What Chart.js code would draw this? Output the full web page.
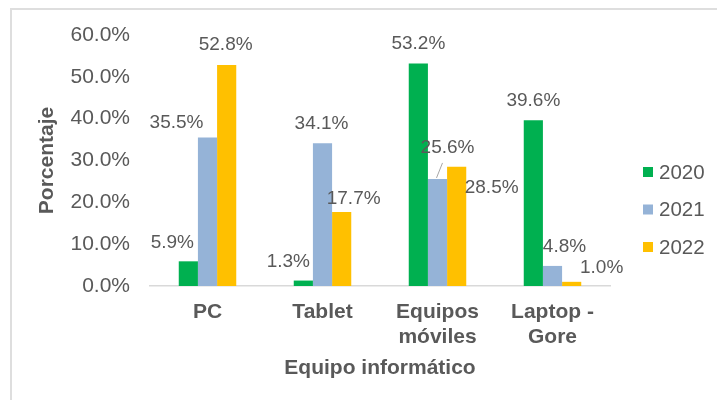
<!DOCTYPE html>
<html>
<head>
<meta charset="utf-8">
<script src="https://cdn.jsdelivr.net/npm/chart.js@4.4.1/dist/chart.umd.min.js"></script>
<style>
  html, body { margin: 0; padding: 0; background: #fff; }
  .frame {
    position: absolute; left: 10px; top: 8px; width: 720px; height: 400px;
    border-left: 2px solid #dedede; border-top: 2px solid #dedede;
  }
  .chart-container { position: absolute; left: 0; top: 0; width: 717px; height: 400px; }
</style>
</head>
<body>
<div class="frame"></div>
<div class="chart-container"><canvas id="equipos-chart"></canvas></div>
<script>
const categories = [['PC'], ['Tablet'], ['Equipos', 'móviles'], ['Laptop -', 'Gore']];
const years = ['2020', '2021', '2022'];
const values2020 = [5.9, 1.3, 53.2, 39.6];
const values2021 = [35.5, 34.1, 25.6, 4.8];
const values2022 = [52.8, 17.7, 28.5, 1.0];
const yTicks = [0, 10, 20, 30, 40, 50, 60];

const colors = ['#00b050', '#95b3d7', '#ffc000'];
const textColor = '#595959';
const fontFamily = '"Liberation Sans", Arial, Helvetica, sans-serif';

// where Excel left each data label, relative to the top of its bar
const labelOffsets = [
  [[-16, -19], [-15, -19], [0, -20], [0, -20]],
  [[-31, -15], [-1, -20], [10, -31], [12, -19]],
  [[-1, -20], [12, -13], [35, 21], [30, -14]]
];

const labelsPlugin = {
  id: 'valueLabels',
  afterDatasetsDraw(chart) {
    const ctx = chart.ctx;
    ctx.save();
    ctx.font = '19px ' + fontFamily;
    ctx.fillStyle = textColor;
    ctx.textAlign = 'center';
    ctx.textBaseline = 'middle';
    chart.data.datasets.forEach((ds, i) => {
      chart.getDatasetMeta(i).data.forEach((bar, j) => {
        const [dx, dy] = labelOffsets[i][j];
        ctx.fillText(ds.data[j].toFixed(1) + '%', bar.x + dx, bar.y + dy);
      });
    });
    // leader line for the 25.6% label
    const b = chart.getDatasetMeta(1).data[2];
    ctx.strokeStyle = '#a6a6a6';
    ctx.lineWidth = 1;
    ctx.beginPath();
    ctx.moveTo(b.x + 5, b.y - 16);
    ctx.lineTo(b.x - 1, b.y - 1);
    ctx.stroke();

    // legend on the right
    ctx.textAlign = 'left';
    ctx.font = '20.5px ' + fontFamily;
    chart.data.datasets.forEach((ds, i) => {
      const y = 172 + i * 37.5;
      ctx.fillStyle = ds.backgroundColor;
      ctx.fillRect(643, y - 5, 10, 10);
      ctx.fillStyle = textColor;
      ctx.fillText(ds.label, 659, y + 1);
    });
    ctx.restore();
  }
};

const ctx = document.getElementById('equipos-chart').getContext('2d');
new Chart(ctx, {
  type: 'bar',
  data: {
    labels: categories,
    datasets: [
      { label: years[0], data: values2020, backgroundColor: colors[0] },
      { label: years[1], data: values2021, backgroundColor: colors[1] },
      { label: years[2], data: values2022, backgroundColor: colors[2] }
    ]
  },
  options: {
    responsive: true,
    maintainAspectRatio: false,
    animation: false,
    layout: { padding: { top: 35, right: 107, left: 10, bottom: 19 } },
    datasets: { bar: { categoryPercentage: 0.5, barPercentage: 1.0 } },
    scales: {
      x: {
        grid: { display: false, drawTicks: false },
        border: { display: true, color: '#d9d9d9', width: 1.5 },
        ticks: {
          color: textColor,
          padding: 14,
          font: { family: fontFamily, size: 21, weight: 'bold', lineHeight: 1.19 }
        },
        title: {
          display: true,
          text: 'Equipo informático',
          color: textColor,
          padding: { top: 8, bottom: 0 },
          font: { family: fontFamily, size: 21, weight: 'bold' }
        },
        afterFit(scale) { scale.height = 95; }
      },
      y: {
        min: 0,
        max: 60,
        grid: { display: false, drawTicks: false },
        border: { display: false },
        afterBuildTicks(scale) { scale.ticks = yTicks.map(v => ({ value: v })); },
        ticks: {
          color: textColor,
          padding: 20,
          font: { family: fontFamily, size: 21 },
          callback: v => v.toFixed(1) + '%'
        },
        title: {
          display: true,
          text: 'Porcentaje',
          color: textColor,
          padding: { top: 25, bottom: 0 },
          font: { family: fontFamily, size: 21, weight: 'bold' }
        },
        afterFit(scale) { scale.width = 140; }
      }
    },
    plugins: {
      legend: { display: false },
      tooltip: { enabled: false }
    }
  },
  plugins: [labelsPlugin]
});
</script>
</body>
</html>
